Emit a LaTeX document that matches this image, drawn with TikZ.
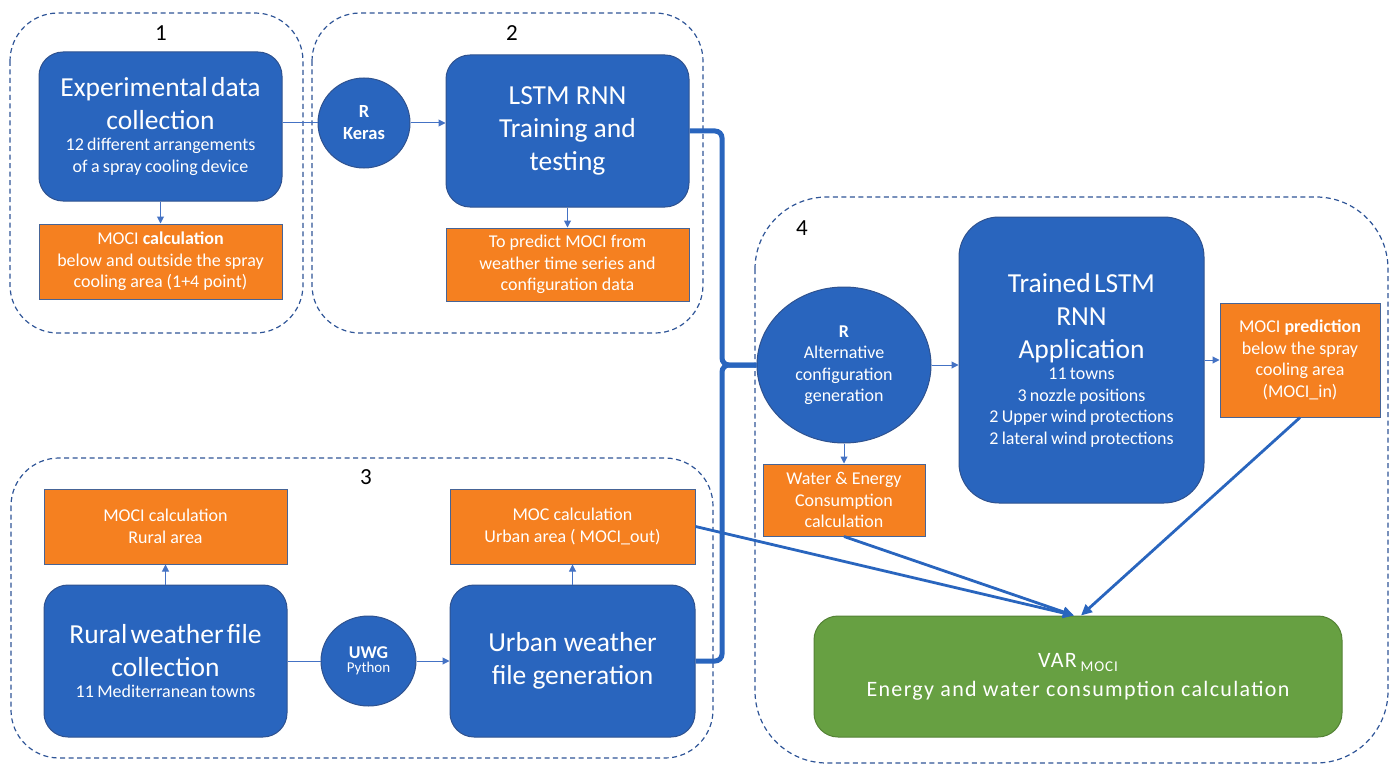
\documentclass[tikz,border=0pt]{standalone}
\usepackage{fontspec}
\setmainfont{Carlito}
\usetikzlibrary{arrows.meta,shapes.geometric}

\definecolor{bluefill}{RGB}{41,101,190}
\definecolor{blueedge}{RGB}{47,82,143}
\definecolor{orangefill}{RGB}{245,128,32}
\definecolor{orangeedge}{RGB}{70,100,150}
\definecolor{greenfill}{RGB}{103,160,66}
\definecolor{greenedge}{RGB}{84,130,53}
\definecolor{dashblue}{RGB}{47,85,151}
\definecolor{lineblue}{RGB}{68,114,196}

\newcommand{\bigtxt}{\fontsize{27.5}{33}\selectfont}
\newcommand{\midtxt}{\fontsize{18}{21.5}\selectfont}

\tikzset{
  bluebox/.style={draw=blueedge, fill=bluefill, line width=1pt, rounded corners=24pt, text=white, align=center, inner sep=2pt},
  orangebox/.style={draw=orangeedge, fill=orangefill, line width=1pt, text=white, align=center, inner sep=2pt, font=\midtxt},
  toolnode/.style={ellipse, draw=blueedge, fill=bluefill, line width=1pt, text=white, align=center, inner sep=0pt},
  greenbox/.style={draw=greenedge, fill=greenfill, line width=1pt, rounded corners=24pt, text=white, align=center, inner sep=2pt},
  groupframe/.style={draw=dashblue, line width=1.2pt, dash pattern=on 5pt off 3.5pt, rounded corners=48pt},
  grouplabel/.style={font=\fontsize{23}{23}\selectfont, text=black, inner sep=0pt},
  thinline/.style={draw=lineblue, line width=1pt},
  thinarrow/.style={thinline, -{Triangle[length=7pt,width=7pt]}},
  thickarrow/.style={draw=bluefill, line width=2.8pt, -{Triangle[length=11pt,width=10pt]}},
  braceline/.style={draw=bluefill, line width=5pt, rounded corners=7pt},
}

\begin{document}
\begin{tikzpicture}[x=1pt,y=-1pt]
  \useasboundingbox (0,0) rectangle (1394,765);
  \draw[groupframe] (10,13) rectangle (303,333);
  \draw[groupframe] (312,13) rectangle (703,333);
  \draw[groupframe] (11,458) rectangle (713,758);
  \draw[groupframe, rounded corners=72pt] (755,197) rectangle (1388,763);
  \node[grouplabel] (num1) at (161,33) {1};
  \node[grouplabel] (num2) at (512,33) {2};
  \node[grouplabel] (num3) at (366,477) {3};
  \node[grouplabel] (num4) at (802,228) {4};

  \node[bluebox, minimum width=243pt, minimum height=149pt, text width=239pt] (exp) at (160.5,126.5)
    {\bigtxt Experimental data\\ collection\par\midtxt 12 different arrangements\\ of a spray cooling device\par};
  \node[orangebox, minimum width=243pt, minimum height=75pt] (moci1) at (160.5,261.5)
    {MOCI \textbf{calculation}\\ below and outside the spray\\ cooling area (1+4 point)};
  \node[toolnode, minimum width=92pt, minimum height=90pt, font=\fontsize{18.5}{22}\selectfont\bfseries] (keras) at (364,123) {R\\ Keras};
  \node[bluebox, minimum width=243pt, minimum height=152pt, font=\bigtxt] (lstm) at (567.5,131)
    {LSTM RNN\\ Training and\\ testing};
  \node[orangebox, minimum width=243pt, minimum height=73pt] (pred) at (567.5,264.5)
    {To predict MOCI from\\ weather time series and\\ configuration data};

  \node[orangebox, minimum width=243pt, minimum height=75pt] (rmoci) at (165.5,526.5)
    {MOCI calculation\\ Rural area};
  \node[bluebox, minimum width=243pt, minimum height=152pt, text width=239pt] (rural) at (165.5,661)
    {\bigtxt Rural weather file\\ collection\par\midtxt 11 Mediterranean towns\par};
  \node[toolnode, minimum width=95pt, minimum height=90pt] (uwg) at (368.5,661)
    {\fontsize{18}{19}\selectfont\bfseries UWG\\[2pt] \fontsize{15}{19}\selectfont Python};
  \node[orangebox, minimum width=245pt, minimum height=75pt] (umoc) at (572.5,526.5)
    {MOC calculation\\ Urban area ( MOCI\_out)};
  \node[bluebox, minimum width=245pt, minimum height=152pt, font=\bigtxt] (urban) at (572.5,661)
    {Urban weather\\ file generation};

  \node[toolnode, minimum width=174pt, minimum height=156pt, font=\midtxt] (alt) at (844,365)
    {\textbf{R}\\ Alternative\\ configuration\\ generation};
  \node[orangebox, minimum width=162pt, minimum height=72pt] (water) at (844,500)
    {Water \& Energy\\ Consumption\\ calculation};
  \node[bluebox, rounded corners=40pt, minimum width=245pt, minimum height=286pt, text width=239pt] (trained) at (1081.5,360)
    {\bigtxt Trained LSTM\\ RNN\\ Application\par\midtxt 11 towns\\ 3 nozzle positions\\ 2 Upper wind protections\\ 2 lateral wind protections\par};
  \node[orangebox, minimum width=160pt, minimum height=114pt] (prediction) at (1300,360)
    {MOCI \textbf{prediction}\\ below the spray\\ cooling area\\ (MOCI\_in)};
  \node[greenbox, minimum width=528pt, minimum height=121pt, font=\fontsize{22}{29}\selectfont\addfontfeatures{LetterSpace=6}] (var) at (1078,676.5)
    {VAR\,\raisebox{-4pt}{\fontsize{15}{15}\selectfont MOCI}\\ Energy and water consumption calculation};

  \draw[thinarrow] (exp) -- (moci1);
  \draw[thinline] (exp.east |- keras) -- (keras.west);
  \draw[thinarrow] (keras.east) -- (keras.east -| lstm.west);
  \draw[thinarrow] (lstm) -- (pred);
  \draw[thinarrow] (rural) -- (rmoci);
  \draw[thinline] (rural.east |- uwg) -- (uwg.west);
  \draw[thinarrow] (uwg.east) -- (uwg.east -| urban.west);
  \draw[thinarrow] (urban) -- (umoc);
  \draw[thinarrow] (alt) -- (water);
  \draw[thinarrow] (alt.east) -- (alt.east -| trained.west);
  \draw[thinarrow] (trained) -- (prediction);

  \coordinate (fork) at (722,365);
  \draw[braceline] (lstm.east) -| (fork) -- (alt.west);
  \draw[braceline] (urban.east) -| (fork) -- (alt.west);

  \draw[thickarrow] (umoc.east) -- ([xshift=-4pt]var.north);
  \draw[thickarrow] (water.south) -- ([xshift=-4pt]var.north);
  \draw[thickarrow] (prediction.south) -- ([xshift=3pt]var.north);
\end{tikzpicture}
\end{document}
